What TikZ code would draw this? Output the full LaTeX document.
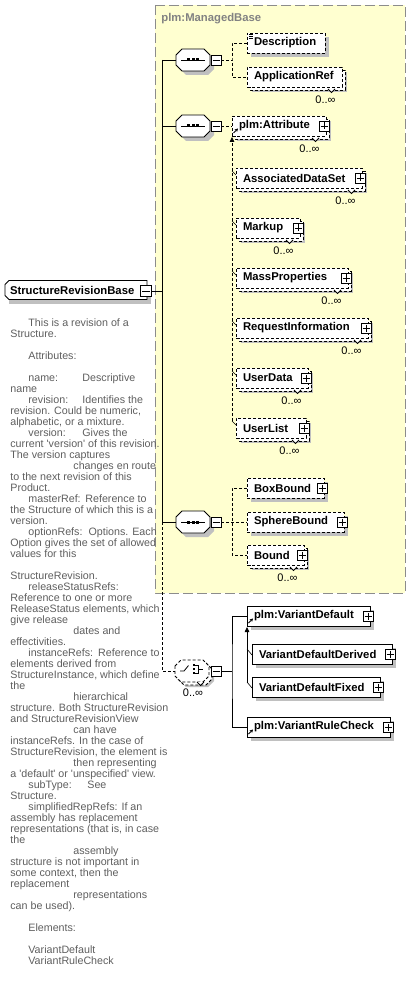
\documentclass[tikz,border=0pt]{standalone}
\usepackage{fontspec}
\setmainfont{Liberation Sans}
\newfontfamily\docfont{Liberation Sans}
\usetikzlibrary{arrows.meta}
\definecolor{yellowc}{RGB}{255,255,208}
\definecolor{ybord}{RGB}{140,140,140}
\definecolor{shadowc}{RGB}{192,192,192}
\definecolor{docgray}{RGB}{95,95,95}
\definecolor{mbgray}{RGB}{130,130,130}
\tikzset{
  optl/.style={dash pattern=on 3pt off 2pt},
  elem/.style={draw, fill=white, anchor=west, minimum height=20pt, inner xsep=7pt, inner ysep=0pt, outer sep=0pt, align=left, font=\fontsize{11.3}{13}\selectfont\bfseries},
  plusbox/.style={draw, solid, fill=white, minimum size=10pt, inner sep=0pt, outer sep=0pt, line width=0.8pt,
    path picture={\draw[solid,line width=0.8pt] ([xshift=1.5pt]path picture bounding box.west) -- ([xshift=-1.5pt]path picture bounding box.east);
                  \draw[solid,line width=0.8pt] ([yshift=-1.5pt]path picture bounding box.north) -- ([yshift=1.5pt]path picture bounding box.south);}},
  minusbox/.style={draw, solid, fill=white, minimum size=10pt, inner sep=0pt, outer sep=0pt, line width=0.8pt,
    path picture={\draw[solid,line width=0.8pt] ([xshift=1.5pt]path picture bounding box.west) -- ([xshift=-1.5pt]path picture bounding box.east);}},
  occ/.style={font=\fontsize{11}{13}\selectfont, inner sep=0pt},
  desc/.style={font=\docfont\fontsize{10.7}{11}\selectfont, text=docgray, align=left, inner sep=0pt},
  mbase/.style={font=\fontsize{11.3}{13}\selectfont\bfseries, text=mbgray, anchor=west, inner sep=0pt},
  subarrow/.style={-{Triangle[length=5pt,width=4.5pt]}},
  hook/.style={solid, line width=0.6pt},
}
% octagon: x0, x1, yc, style
\newcommand\octagon[4]{\draw[#4] ({#1},{#3-5}) -- ({#1+6},{#3-11}) -- ({#2-6},{#3-11}) -- ({#2},{#3-5}) -- ({#2},{#3+5}) -- ({#2-6},{#3+11}) -- ({#1+6},{#3+11}) -- ({#1},{#3+5}) -- cycle;}
% single element: name, L, Y, R, textwidth, label, style
\newcommand\elbox[7]{%
  \fill[shadowc] ({#2+4},{#3-6}) rectangle ({#4+4},{#3+14});
  \node[elem,#7,text width=#5pt] (#1) at (#2,#3) {\mbox{#6}};}
% multi element
\newcommand\mulbox[7]{%
  \fill[shadowc] ({#2+5},{#3-5}) rectangle ({#4+5},{#3+15});
  \draw[#7,fill=white] ({#2+3},{#3-7}) rectangle ({#4+3},{#3+13});
  \node[elem,#7,text width=#5pt] (#1) at (#2,#3) {\mbox{#6}};
  \draw[solid,line width=0.8pt,fill=white] ({#4-14},{#3+12}) -- ({#4-10.5},{#3+15.5}) -- ({#4-7},{#3+12});
  \node[occ] (#1-o) at ({#4-16.5},{#3+23}) {0..∞};}
\newcommand\plusat[3]{\node[plusbox] (#1-p) at ({#2-2},{#3}) {};}
\newcommand\refarrow[2]{\draw[solid,line width=1pt,-{Stealth[length=3.2pt,width=3.5pt]}] ({#1+1.5},{#2+7}) -- ({#1+6},{#2+2.5});}
% sequence compositor: name, x0, yc
\newcommand\seqcomp[3]{%
  \octagon{#2+4}{#2+38}{#3+4}{fill=shadowc,draw=none}
  \octagon{#2}{#2+34}{#3}{solid,fill=white}
  \draw[solid] ({#2+5},{#3}) -- ({#2+29},{#3});
  \fill ({#2+17-6},{#3-1.5}) rectangle ++(3,3);
  \fill ({#2+17-1.5},{#3-1.5}) rectangle ++(3,3);
  \fill ({#2+17+3},{#3-1.5}) rectangle ++(3,3);
  \coordinate (#1) at (#2,#3);
  \node[minusbox] (#1-m) at ({#2+40},{#3}) {};}

\begin{document}
\begin{tikzpicture}[x=1pt,y=-1pt,line width=0.8pt]
\useasboundingbox (0,0) rectangle (411,981);
\fill[white] (0,0) rectangle (411,981);

% managed base group
\draw[draw=ybord, fill=yellowc, dash pattern=on 10pt off 4pt] (155,5) rectangle (405,593);
\node[mbase] (mb) at (161,19) {plm:ManagedBase};

% root element
\fill[shadowc] (9,285) rectangle (151,304);
\node[font=\fontsize{11.3}{13}\selectfont\bfseries, anchor=west, minimum height=19pt, text width=132pt, inner xsep=5pt, inner ysep=0pt, outer sep=0pt, fill=white, align=left] (srb) at (5,290) {StructureRevisionBase};
\draw (srb.north east) -- ([xshift=4pt]srb.north west) -- ([yshift=-4pt]srb.north west) -- ([yshift=4pt]srb.south west) -- ([xshift=4pt]srb.south west) -- (srb.south east) -- cycle;
\node[minusbox, minimum size=11pt] (srb-m) at (146,291) {};

% trunk
\coordinate (tsrb) at (162,291);
\coordinate (t1) at (162,60);
\coordinate (t2) at (162,126);
\coordinate (t3) at (162,522);
\coordinate (tc) at (162,671);
\draw (srb-m.east) -- (tsrb);
\draw (t1) -- (t3);

% compositors
\seqcomp{s1}{176}{60}
\seqcomp{s2}{176}{126}
\seqcomp{s3}{176}{522}
\draw (t1) -- (s1);
\draw (t2) -- (s2);
\draw (t3) -- (s3);
\draw[optl] (t3) -- (tc) -- (175,671);

% sequence 1 children
\elbox{desc}{247}{43}{325}{64}{Description}{optl}
\draw[solid,line width=0.6pt] (249,34)--(253,34) (249,36)--(253,36) (249,38)--(253,38);
\mulbox{appref}{247}{77}{342}{81}{ApplicationRef}{optl}
\coordinate (b1) at (232,60);
\draw[optl] (s1-m.east) -- (b1);
\draw[optl] (desc.west) -| (b1) |- (appref.west);

% sequence 2 : attribute + substitution group
\mulbox{attr}{232}{126}{326}{80}{plm:Attribute}{optl}
\plusat{attr}{326}{126}
\refarrow{232}{126}
\draw[optl] (s2-m.east) -- (attr.west);

\mulbox{ads}{236}{178}{362}{112}{AssociatedDataSet}{optl}\plusat{ads}{362}{178}
\mulbox{markup}{236}{228}{300}{50}{Markup}{optl}\plusat{markup}{300}{228}
\mulbox{mass}{236}{278}{348}{98}{MassProperties}{optl}\plusat{mass}{348}{278}
\mulbox{reqinf}{236}{328}{368}{118}{RequestInformation}{optl}\plusat{reqinf}{368}{328}
\mulbox{udata}{236}{378}{308}{58}{UserData}{optl}\plusat{udata}{308}{378}
\mulbox{ulist}{236}{428}{306}{56}{UserList}{optl}\plusat{ulist}{306}{428}

\coordinate (sg1t) at (232,137);
\coordinate (sg1b) at (232,421);
\draw[optl, subarrow] (sg1b) -- (sg1t);
\foreach \n in {ads,markup,mass,reqinf,udata,ulist}
  \draw[hook] ([xshift=-4pt,yshift=7pt]\n.west) -- ([yshift=3pt]\n.west);

% sequence 3
\elbox{boxb}{247}{488}{324}{63}{BoxBound}{optl}\plusat{boxb}{324}{488}
\elbox{sphb}{247}{522}{344}{83}{SphereBound}{optl}\plusat{sphb}{344}{522}
\mulbox{bound}{247}{555}{304}{43}{Bound}{optl}\plusat{bound}{304}{555}
\coordinate (b3) at (232,522);
\draw[optl] (s3-m.east) -- (sphb.west);
\draw[optl] (boxb.west) -| (b3) |- (bound.west);

% choice compositor
\octagon{180}{214}{676}{fill=shadowc,draw=none}
\octagon{178}{212}{674}{optl,fill=white}
\octagon{175}{209}{671}{optl,fill=white}
\draw[solid,line width=0.8pt,fill=white] (197,682) -- (200.5,685.5) -- (204,682);
\node[occ] (c1-o) at (193,693) {0..∞};
\draw[solid] (180,671) -- (184,671) -- (188.5,665.5);
\fill (192.8,664) rectangle ++(2.4,2.4);
\fill (192.8,668) rectangle ++(2.4,2.4);
\fill (192.8,672) rectangle ++(2.4,2.4);
\draw[solid] (195,665.2) -- (198,665.2) -- (198,673.2) -- (195,673.2);
\draw[solid] (198,669.2) -- (203,669.2);
\coordinate (c1) at (175,671);
\node[minusbox] (c1-m) at (216,671) {};

% choice children
\elbox{vdef}{247}{616}{370}{109}{plm:VariantDefault}{solid}\plusat{vdef}{370}{616}
\refarrow{247}{616}
\elbox{vder}{252}{654}{392}{126}{VariantDefaultDerived}{solid}\plusat{vder}{392}{654}
\elbox{vfix}{252}{687}{380}{114}{VariantDefaultFixed}{solid}\plusat{vfix}{380}{687}
\elbox{vrule}{247}{727}{390}{129}{plm:VariantRuleCheck}{solid}\plusat{vrule}{390}{727}
\refarrow{247}{727}
\coordinate (b4) at (232,671);
\draw (c1-m.east) -- (b4);
\draw (vdef.west) -| (b4) |- (vrule.west);
\coordinate (sg2t) at (247,627);
\coordinate (sg2b) at (247,683);
\draw[subarrow] (sg2b) -- (sg2t);
\foreach \n in {vder,vfix}
  \draw[hook] ([xshift=-5pt,yshift=5pt]\n.west) -- ([yshift=-1pt]\n.west);

% documentation
\node[desc, anchor=north west] (doc) at (10,318) {%
\hspace*{18pt}This is a revision of a\\
Structure.\\
\mbox{}\\
\hspace*{18pt}Attributes:\\
\mbox{}\\
\hspace*{18pt}\makebox[54pt][l]{name:}Descriptive\\
name\\
\hspace*{18pt}\makebox[54pt][l]{revision:}Identifies the\\
revision. Could be numeric,\\
alphabetic, or a mixture.\\
\hspace*{18pt}\makebox[54pt][l]{version:}Gives the\\
current 'version' of this revision.\\
The version captures\\
\hspace*{63pt}changes en route\\
to the next revision of this\\
Product.\\
\hspace*{18pt}\makebox[57pt][l]{masterRef:}Reference to\\
the Structure of which this is a\\
version.\\
\hspace*{18pt}optionRefs:\hspace{6pt}Options. Each\\
Option gives the set of allowed\\
values for this\\
\mbox{}\\
StructureRevision.\\
\hspace*{18pt}releaseStatusRefs:\\
Reference to one or more\\
ReleaseStatus elements, which\\
give release\\
\hspace*{63pt}dates and\\
effectivities.\\
\hspace*{18pt}instanceRefs:\hspace{5pt}Reference to\\
elements derived from\\
StructureInstance, which define\\
the\\
\hspace*{63pt}hierarchical\\
structure. Both StructureRevision\\
and StructureRevisionView\\
\hspace*{63pt}can have\\
instanceRefs. In the case of\\
StructureRevision, the element is\\
\hspace*{63pt}then representing\\
a 'default' or 'unspecified' view.\\
\hspace*{18pt}\makebox[59pt][l]{subType:}See\\
Structure.\\
\hspace*{18pt}simplifiedRepRefs: If an\\
assembly has replacement\\
representations (that is, in case\\
the\\
\hspace*{63pt}assembly\\
structure is not important in\\
some context, then the\\
replacement\\
\hspace*{63pt}representations\\
can be used).\\
\mbox{}\\
\hspace*{18pt}Elements:\\
\mbox{}\\
\hspace*{18pt}VariantDefault\\
\hspace*{18pt}VariantRuleCheck};
\end{tikzpicture}
\end{document}
